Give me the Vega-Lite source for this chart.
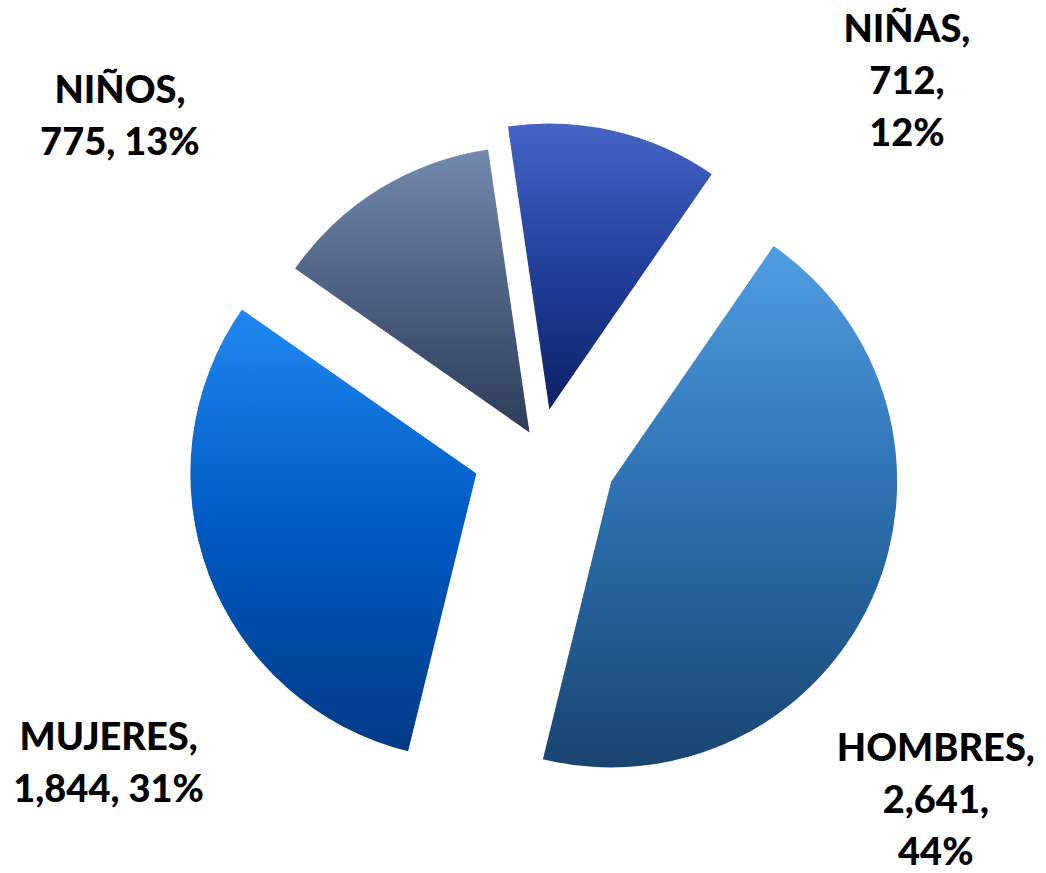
{
  "$schema": "https://vega.github.io/schema/vega-lite/v6.json",
  "autosize": {"type": "none"},
  "padding": {"left": 34, "top": 26, "right": 0, "bottom": 0},
  "width": 1012,
  "height": 847,
  "background": "white",
  "config": {"view": {"stroke": null}},
  "data": {
    "values": [
      {"cat": "HOMBRES", "value": 2641, "orden": 1, "label": "HOMBRES,\n2,641,\n44%"},
      {"cat": "MUJERES", "value": 1844, "orden": 2, "label": "MUJERES,\n1,844, 31%"},
      {"cat": "NIÑOS", "value": 775, "orden": 3, "label": "NIÑOS,\n775, 13%"},
      {"cat": "NIÑAS", "value": 712, "orden": 4, "label": "NIÑAS,\n712,\n12%"}
    ]
  },
  "encoding": {
    "theta": {"field": "value", "type": "quantitative", "stack": true, "scale": {"range": [0.604, 6.887]}},
    "order": {"field": "orden", "type": "quantitative"},
    "detail": {"field": "cat", "type": "nominal"}
  },
  "layer": [
    {
      "mark": {
        "type": "arc",
        "outerRadius": 286,
        "xOffset": {"expr": "(datum.cat==='HOMBRES'?78:datum.cat==='MUJERES'?68:datum.cat==='NIÑAS'?41:20)*sin((scale('theta', datum.value_start)+scale('theta', datum.value_end))/2)"},
        "yOffset": {"expr": "-(datum.cat==='HOMBRES'?78:datum.cat==='MUJERES'?68:datum.cat==='NIÑAS'?41:20)*cos((scale('theta', datum.value_start)+scale('theta', datum.value_end))/2)"}
      },
      "encoding": {
        "fill": {
          "condition": [
            {"test": "datum.cat==='HOMBRES'", "value": {"gradient": "linear", "x1": 0, "y1": 0, "x2": 0, "y2": 1, "stops": [{"offset": 0, "color": "#509de3"}, {"offset": 0.5, "color": "#2b6fae"}, {"offset": 1, "color": "#1a4470"}]}},
            {"test": "datum.cat==='MUJERES'", "value": {"gradient": "linear", "x1": 0, "y1": 0, "x2": 0, "y2": 1, "stops": [{"offset": 0, "color": "#2088f2"}, {"offset": 0.5, "color": "#0058c2"}, {"offset": 1, "color": "#003a86"}]}},
            {"test": "datum.cat==='NIÑOS'", "value": {"gradient": "linear", "x1": 0, "y1": 0, "x2": 0, "y2": 1, "stops": [{"offset": 0, "color": "#7389ad"}, {"offset": 0.5, "color": "#4d6184"}, {"offset": 1, "color": "#2d3c58"}]}}
          ],
          "value": {"gradient": "linear", "x1": 0, "y1": 0, "x2": 0, "y2": 1, "stops": [{"offset": 0, "color": "#4564c4"}, {"offset": 0.5, "color": "#223f9c"}, {"offset": 1, "color": "#0b2166"}]}
        }
      }
    },
    {
      "mark": {
        "type": "text",
        "radius": 400,
        "lineBreak": "\n",
        "font": "Lato",
        "fontWeight": 900,
        "fontSize": 38,
        "lineHeight": 52,
        "align": "center",
        "baseline": "middle",
        "color": "black",
        "dx": {"expr": "datum.cat==='HOMBRES'?31:datum.cat==='MUJERES'?-57:datum.cat==='NIÑOS'?-210:276"},
        "dy": {"expr": "datum.cat==='HOMBRES'?136:datum.cat==='MUJERES'?149:datum.cat==='NIÑOS'?-17:-29"}
      },
      "encoding": {
        "text": {"field": "label", "type": "nominal"}
      }
    }
  ]
}
